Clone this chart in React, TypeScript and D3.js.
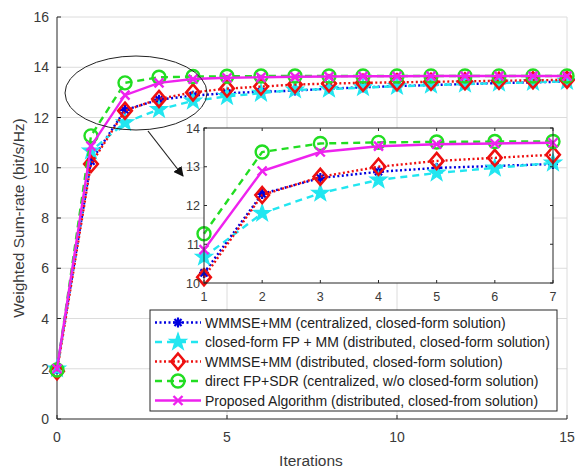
import React from "react";
import * as d3 from "d3";

const iterations = [0, 1, 2, 3, 4, 5, 6, 7, 8, 9, 10, 11, 12, 13, 14, 15];
const wmmseCentral = [2, 10.26, 12.3, 12.71, 12.87, 12.97, 13.02, 13.07, 13.15, 13.2, 13.25, 13.29, 13.33, 13.37, 13.4, 13.43];
const fpMM = [2, 10.67, 11.8, 12.32, 12.66, 12.84, 12.97, 13.1, 13.13, 13.19, 13.24, 13.29, 13.33, 13.37, 13.4, 13.44];
const wmmseDist = [1.9, 10.15, 12.27, 12.74, 13.0, 13.15, 13.23, 13.31, 13.35, 13.38, 13.4, 13.42, 13.44, 13.46, 13.48, 13.5];
const fpSDR = [1.95, 11.27, 13.38, 13.6, 13.63, 13.64, 13.65, 13.65, 13.65, 13.65, 13.65, 13.65, 13.65, 13.65, 13.65, 13.65];
const proposed = [2, 10.86, 12.89, 13.38, 13.53, 13.58, 13.6, 13.62, 13.63, 13.64, 13.64, 13.65, 13.65, 13.65, 13.65, 13.65];

const legendLabels = [
  "WMMSE+MM (centralized, closed-form solution)",
  "closed-form FP + MM (distributed, closed-form solution)",
  "WMMSE+MM (distributed, closed-form solution)",
  "direct FP+SDR (centralized, w/o closed-form solution)",
  "Proposed Algorithm (distributed, closed-from solution)",
];
const xTicks = [0, 5, 10, 15];
const yTicks = [0, 2, 4, 6, 8, 10, 12, 14, 16];
const insetXTicks = [1, 2, 3, 4, 5, 6, 7];
const insetYTicks = [10, 11, 12, 13, 14];

type Marker = "asterisk" | "star" | "diamond" | "circle" | "x";
interface Series { values: number[]; color: string; dash: string; width: number; marker: Marker; }

const series: Series[] = [
  { values: wmmseCentral, color: "#0000e0", dash: "2,2.5", width: 2.4, marker: "asterisk" },
  { values: fpMM, color: "#22e6f0", dash: "7,5", width: 2.4, marker: "star" },
  { values: wmmseDist, color: "#ee1010", dash: "2,2.5", width: 2.4, marker: "diamond" },
  { values: fpSDR, color: "#22dd22", dash: "7,5", width: 2.4, marker: "circle" },
  { values: proposed, color: "#ee22ee", dash: "", width: 2.4, marker: "x" },
];

const font = "'Liberation Sans', Arial, sans-serif";

function markerEl(m: Marker, cx: number, cy: number, color: string, key: string, scale = 1) {
  if (m === "asterisk") {
    const r = 5 * scale;
    const d = [0, 45, 90, 135].map((a) => {
      const t = (a * Math.PI) / 180;
      return `M${cx - r * Math.cos(t)},${cy - r * Math.sin(t)}L${cx + r * Math.cos(t)},${cy + r * Math.sin(t)}`;
    }).join("");
    return <path key={key} d={d} stroke={color} strokeWidth={2.2} fill="none" />;
  }
  if (m === "star") {
    const R = 9 * scale, r = R * 0.4;
    const pts: [number, number][] = [];
    for (let i = 0; i < 10; i++) {
      const a = -Math.PI / 2 + (i * Math.PI) / 5;
      const rr = i % 2 === 0 ? R : r;
      pts.push([cx + rr * Math.cos(a), cy + rr * Math.sin(a)]);
    }
    return <path key={key} d={"M" + pts.map((p) => p.join(",")).join("L") + "Z"} fill={color} stroke={color} strokeWidth={1.2} />;
  }
  if (m === "diamond") {
    const r = 8 * scale;
    return <path key={key} d={`M${cx},${cy - r}L${cx + r * 0.85},${cy}L${cx},${cy + r}L${cx - r * 0.85},${cy}Z`} fill="none" stroke={color} strokeWidth={2.6} />;
  }
  if (m === "circle") {
    return <circle key={key} cx={cx} cy={cy} r={6.5 * scale} fill="none" stroke={color} strokeWidth={2.4} />;
  }
  const r = 4.5 * scale;
  return <path key={key} d={`M${cx - r},${cy - r}L${cx + r},${cy + r}M${cx - r},${cy + r}L${cx + r},${cy - r}`} stroke={color} strokeWidth={2.4} fill="none" />;
}

export default function App() {
  const W = 575, H = 468;
  const x = d3.scaleLinear().domain([0, 15]).range([57, 567]);
  const y = d3.scaleLinear().domain([0, 16]).range([419, 17]);
  const ix = d3.scaleLinear().domain([1, 7]).range([204, 553]);
  const iy = d3.scaleLinear().domain([10, 14]).range([283, 128]);

  const lineMain = d3.line<number>().x((_, i) => x(iterations[i])).y((v) => y(v));
  const insetIdx = iterations.filter((t) => t >= 1 && t <= 7);
  const lineInset = d3.line<number>().x((v, i) => ix(insetIdx[i])).y((v) => iy(v));

  const gridColor = "#dcdcdc";
  const axisColor = "#262626";
  const textColor = "#3a3a3a";

  return (
    <svg width={W} height={H} style={{ position: "absolute", left: 0, top: 0, background: "#fff" }} fontFamily={font}>
      <rect x={0} y={0} width={W} height={H} fill="#fff" />
      {/* grid */}
      {xTicks.slice(1, -1).map((t) => (
        <line key={"gx" + t} x1={x(t)} x2={x(t)} y1={y(0)} y2={y(16)} stroke={gridColor} strokeWidth={1} />
      ))}
      {yTicks.slice(1, -1).map((t) => (
        <line key={"gy" + t} x1={x(0)} x2={x(15)} y1={y(t)} y2={y(t)} stroke={gridColor} strokeWidth={1} />
      ))}
      {/* box */}
      <line x1={x(0)} x2={x(15)} y1={y(16)} y2={y(16)} stroke={gridColor} />
      <line x1={x(15)} x2={x(15)} y1={y(0)} y2={y(16)} stroke={gridColor} />
      <line x1={x(0)} x2={x(15)} y1={y(0)} y2={y(0)} stroke={axisColor} />
      <line x1={x(0)} x2={x(0)} y1={y(0)} y2={y(16)} stroke={axisColor} />
      {xTicks.map((t) => (
        <g key={"xt" + t}>
          <line x1={x(t)} x2={x(t)} y1={y(0)} y2={y(0) - 4} stroke={axisColor} />
          <text x={x(t)} y={y(0) + 23} textAnchor="middle" fontSize={14} fill={textColor}>{t}</text>
        </g>
      ))}
      {yTicks.map((t) => (
        <g key={"yt" + t}>
          <line x1={x(0)} x2={x(0) + 4} y1={y(t)} y2={y(t)} stroke={axisColor} />
          <text x={x(0) - 8} y={y(t) + 5} textAnchor="end" fontSize={14} fill={textColor}>{t}</text>
        </g>
      ))}
      <text x={311} y={466} textAnchor="middle" fontSize={15.5} fill={textColor}>Iterations</text>
      <text transform={`translate(24,218) rotate(-90)`} textAnchor="middle" fontSize={15.5} fill={textColor}>Weighted Sum-rate (bit/s/Hz)</text>

      {/* main series */}
      {series.map((s, si) => (
        <g key={"s" + si}>
          <path d={lineMain(s.values) || ""} fill="none" stroke={s.color} strokeWidth={s.width} strokeDasharray={s.dash} />
          {s.values.map((v, i) => markerEl(s.marker, x(iterations[i]), y(v), s.color, `m${si}-${i}`))}
        </g>
      ))}

      {/* ellipse + arrow */}
      <ellipse cx={136} cy={93} rx={71} ry={37} fill="none" stroke="#222" strokeWidth={1} />
      <defs>
        <marker id="ah" markerWidth={10} markerHeight={10} refX={9} refY={5} orient="auto" markerUnits="userSpaceOnUse">
          <path d="M0,0L10,5L0,10Z" fill="#111" />
        </marker>
      </defs>
      <line x1={148} y1={131} x2={183} y2={176} stroke="#222" strokeWidth={1.2} markerEnd="url(#ah)" />

      {/* inset */}
      <rect x={ix(1)} y={iy(14)} width={ix(7) - ix(1)} height={iy(10) - iy(14)} fill="#fff" />
      <defs>
        <clipPath id="insetClip">
          <rect x={ix(1) - 12} y={iy(14) - 2} width={ix(7) - ix(1) + 24} height={iy(10) - iy(14) + 14} />
        </clipPath>
      </defs>
      <g clipPath="url(#insetClip)">
        {series.map((s, si) => {
          const vals = s.values.slice(1, 8);
          return (
            <g key={"is" + si}>
              <path d={lineInset(vals) || ""} fill="none" stroke={s.color} strokeWidth={s.width} strokeDasharray={s.dash} />
              {vals.map((v, i) => markerEl(s.marker, ix(insetIdx[i]), iy(v), s.color, `im${si}-${i}`))}
            </g>
          );
        })}
      </g>
      <rect x={ix(1)} y={iy(14)} width={ix(7) - ix(1)} height={iy(10) - iy(14)} fill="none" stroke={axisColor} strokeWidth={1} />
      {insetXTicks.map((t) => (
        <g key={"ixt" + t}>
          <line x1={ix(t)} x2={ix(t)} y1={iy(10)} y2={iy(10) - 3} stroke={axisColor} />
          <line x1={ix(t)} x2={ix(t)} y1={iy(14)} y2={iy(14) + 3} stroke={axisColor} />
          <text x={ix(t)} y={iy(10) + 18} textAnchor="middle" fontSize={12.5} fill={textColor}>{t}</text>
        </g>
      ))}
      {insetYTicks.map((t) => (
        <g key={"iyt" + t}>
          <line x1={ix(1)} x2={ix(1) + 3} y1={iy(t)} y2={iy(t)} stroke={axisColor} />
          <line x1={ix(7)} x2={ix(7) - 3} y1={iy(t)} y2={iy(t)} stroke={axisColor} />
          <text x={ix(1) - 4} y={iy(t) + 4.5} textAnchor="end" fontSize={12.5} fill={textColor}>{t}</text>
        </g>
      ))}

      {/* legend */}
      <rect x={150} y={310} width={407} height={101} fill="#fff" stroke={axisColor} strokeWidth={1} />
      {series.map((s, i) => {
        const ly = 322.5 + i * 19.5;
        return (
          <g key={"lg" + i}>
            <line x1={155} x2={201} y1={ly} y2={ly} stroke={s.color} strokeWidth={s.width} strokeDasharray={s.dash} />
            {markerEl(s.marker, 178, ly, s.color, "lm" + i)}
            <text x={205} y={ly + 5} fontSize={14} fill="#222">{legendLabels[i]}</text>
          </g>
        );
      })}
    </svg>
  );
}
